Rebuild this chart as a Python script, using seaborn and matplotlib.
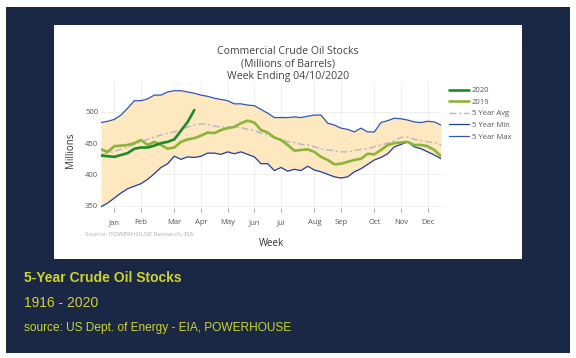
import matplotlib
matplotlib.use("Agg")
import matplotlib.pyplot as plt
import seaborn as sns
from matplotlib.patches import Rectangle

# weekly commercial crude stocks, millions of barrels
weeks = list(range(1, 53))
stocks_2020 = [430, 429, 428, 431, 434, 441, 443, 443, 446, 450, 452, 456, 470, 484, 503]
stocks_2019 = [440, 436, 445, 446, 447, 450, 455, 447, 452, 447, 441, 443, 452,
               456, 458, 462, 467, 466, 471, 474, 476, 482, 486, 483, 471, 467,
               459, 455, 447, 438, 439, 440, 436, 428, 423, 416, 417, 420, 423,
               425, 433, 432, 439, 447, 450, 451, 452, 447, 447, 445, 439, 429]
avg_5yr = [432, 434, 437, 440, 444, 448, 452, 456, 460, 463, 466, 468, 472,
           476, 479, 481, 480, 477, 476, 476, 476, 475, 472, 470, 466, 463,
           459, 456, 452, 451, 448, 447, 444, 441, 439, 438, 436, 436, 438,
           440, 441, 444, 447, 450, 454, 459, 460, 456, 454, 452, 451, 447]
min_5yr = [348, 354, 362, 370, 377, 381, 385, 392, 401, 411, 417, 429, 424,
           428, 427, 429, 434, 434, 432, 436, 433, 436, 432, 428, 417, 417,
           406, 411, 405, 408, 406, 413, 407, 404, 400, 396, 394, 396, 404,
           409, 416, 423, 427, 433, 444, 448, 452, 444, 441, 436, 431, 425]
max_5yr = [483, 485, 488, 495, 506, 518, 518, 521, 527, 527, 532, 534, 534,
           532, 530, 527, 525, 522, 520, 518, 513, 513, 511, 510, 504, 498,
           491, 491, 491, 492, 491, 493, 495, 495, 482, 479, 474, 472, 468,
           474, 468, 468, 483, 486, 490, 489, 487, 484, 483, 485, 484, 479]
month_weeks = [3, 7, 12, 16, 20, 24, 28, 33, 37, 42, 46, 50]
month_labels = ["Jan", "Feb", "Mar", "Apr", "May", "Jun",
                "Jul", "Aug", "Sep", "Oct", "Nov", "Dec"]

NAVY = "#1a2846"
YELLOW = "#cdd32e"
GREY_TXT = "#555555"

sns.set_theme(style="whitegrid")
plt.rcParams['font.family'] = ['Open Sans', 'DejaVu Sans']

W, H = 576, 358
fig = plt.figure(figsize=(W / 100, H / 100), dpi=100, facecolor="white")


def fx(x):
    return x / W


def fy(y):
    return 1 - y / H


# navy card and white chart panel
fig.add_artist(Rectangle((fx(6), fy(353)), fx(564), 346 / H, transform=fig.transFigure,
                         facecolor=NAVY, edgecolor="none", zorder=-2))
fig.add_artist(Rectangle((fx(54), fy(259)), fx(468), 234 / H, transform=fig.transFigure,
                         facecolor="white", edgecolor="none", zorder=-1))

ax = fig.add_axes([fx(101), fy(208), fx(340), 126 / H])
ax.set_facecolor("white")

ax.fill_between(weeks, min_5yr, max_5yr, color="#fde8bf", linewidth=0, zorder=1)
sns.lineplot(x=weeks[:len(stocks_2020)], y=stocks_2020, ax=ax, color="#1e8a2a",
             linewidth=1.9, label="2020", zorder=6)
sns.lineplot(x=weeks, y=stocks_2019, ax=ax, color="#8cb43a",
             linewidth=1.9, label="2019", zorder=5)
sns.lineplot(x=weeks, y=avg_5yr, ax=ax, color="#b4b4c4", linewidth=1.0,
             linestyle=(0, (5, 2, 1.5, 2)), label="5 Year Avg", zorder=4)
sns.lineplot(x=weeks, y=min_5yr, ax=ax, color="#1f3f9e",
             linewidth=0.9, label="5 Year Min", zorder=3)
sns.lineplot(x=weeks, y=max_5yr, ax=ax, color="#2f55ad",
             linewidth=0.9, label="5 Year Max", zorder=3)

ax.set_xlim(1, 52)
ax.set_ylim(346, 548)
ax.set_yticks([350, 400, 450, 500])
ax.set_xticks(month_weeks)
ax.set_xticklabels(month_labels)
ax.grid(True, color="#ebebeb", linewidth=0.6)
for s in ax.spines.values():
    s.set_visible(False)
ax.tick_params(axis="x", direction="out", length=3, width=0.6, color="#999999",
               pad=5, labelsize=5.5, labelcolor=GREY_TXT, bottom=True)
ax.tick_params(axis="y", length=0, pad=2, labelsize=5.5, labelcolor=GREY_TXT)
ax.set_xlabel("")
ax.set_ylabel("")

leg = ax.legend(loc="upper left", bbox_to_anchor=(fx(449), fy(87)),
                bbox_transform=fig.transFigure, frameon=False, fontsize=5.5,
                handlelength=2.6, handletextpad=0.35, labelspacing=0.55,
                borderpad=0, borderaxespad=0)
for t in leg.get_texts():
    t.set_color(GREY_TXT)

# titles and labels
title = ["Commercial Crude Oil Stocks", "(Millions of Barrels)", "Week Ending 04/10/2020"]
for i, line in enumerate(title):
    fig.text(fx(288), fy(51 + 12.5 * i), line, ha="center", va="center",
             fontsize=7.6, color="#444444")
fig.text(fx(271), fy(243), "Week", ha="center", va="center", fontsize=7, color="#333333")
fig.text(fx(71), fy(150), "Millions", ha="center", va="center", rotation=90,
         fontsize=7, color="#333333")
fig.text(fx(85), fy(234), "Source: POWERHOUSE Research, EIA", ha="left", va="center",
         fontsize=4.6, color="#aaaaaa")

# caption under the chart
fig.text(fx(24), fy(278), "5-Year Crude Oil Stocks", ha="left", va="center",
         fontsize=10, fontweight="bold", color=YELLOW, family="Liberation Sans")
fig.text(fx(24), fy(303), "1916 - 2020", ha="left", va="center",
         fontsize=10, color=YELLOW, family="Liberation Sans")
fig.text(fx(24), fy(328), "source: US Dept. of Energy - EIA, POWERHOUSE", ha="left",
         va="center", fontsize=8.6, color=YELLOW, family="Liberation Sans")

fig.savefig("out.png", dpi=100, facecolor="white")
